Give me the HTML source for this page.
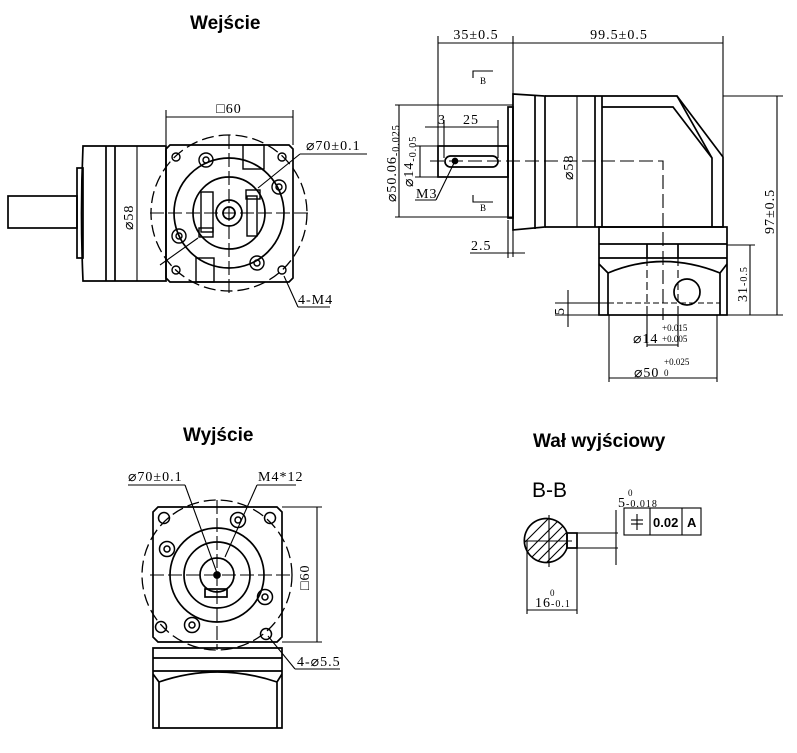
<!DOCTYPE html>
<html><head><meta charset="utf-8"><style>
html,body{margin:0;padding:0;background:#fff;width:797px;height:753px;overflow:hidden}
svg{display:block}
.t{font-family:"Liberation Sans",sans-serif;font-weight:bold;font-size:19px;fill:#000}
.d{font-family:"Liberation Serif",serif;font-size:14px;letter-spacing:1px;fill:#000}
.s{font-family:"Liberation Serif",serif;font-size:9px;fill:#000}
</style></head><body>
<svg width="797" height="753" viewBox="0 0 797 753" fill="none" stroke="#000" stroke-width="1.7">
<g stroke="none">
<text class="t" x="190" y="29">Wejście</text>
<text class="t" x="183" y="441">Wyjście</text>
<text class="t" x="533" y="447">Wał wyjściowy</text>
<text x="532" y="497" style="font-family:'Liberation Sans',sans-serif;font-size:21px" fill="#000">B-B</text>
</g>

<!-- ===== Wejście view ===== -->
<rect x="8" y="196" width="69" height="32"/>
<rect x="77" y="168" width="6" height="90"/>
<path d="M83,146 L166,146 L166,281 L83,281 Q80,213 83,146 Z"/>
<line x1="106" y1="146" x2="106" y2="281"/>
<line x1="115" y1="146" x2="115" y2="281"/>
<line x1="137" y1="146" x2="137" y2="281" stroke-width="1.1"/>
<text class="d" transform="translate(133,230) rotate(-90)" stroke="none">⌀58</text>
<path d="M170,145 L289,145 L293,149 L293,278 L289,282 L170,282 L166,278 L166,149 Z"/>
<circle cx="229" cy="213" r="78" stroke-dasharray="12,5" stroke-width="1.3"/>
<circle cx="229" cy="213" r="55"/>
<circle cx="229" cy="213" r="36"/>
<circle cx="229" cy="213" r="13"/>
<circle cx="229" cy="213" r="6"/>
<line x1="150" y1="213" x2="310" y2="213" stroke-dasharray="14,4" stroke-width="1.1"/>
<line x1="229" y1="135" x2="229" y2="295" stroke-dasharray="14,4" stroke-width="1.1"/>
<g stroke-width="1.4">
<circle cx="176" cy="157" r="4"/><circle cx="282" cy="157" r="4"/><circle cx="176" cy="270" r="4"/><circle cx="282" cy="270" r="4"/>
<circle cx="206" cy="160" r="7"/><circle cx="206" cy="160" r="3"/>
<circle cx="279" cy="187" r="7"/><circle cx="279" cy="187" r="3"/>
<circle cx="179" cy="236" r="7"/><circle cx="179" cy="236" r="3"/>
<circle cx="257" cy="263" r="7"/><circle cx="257" cy="263" r="3"/>
<rect x="243" y="145" width="21" height="24"/>
<rect x="196" y="258" width="18" height="24"/>
<rect x="201" y="192" width="12" height="40"/>
<rect x="247" y="196" width="10" height="40"/>
<rect x="246" y="190" width="14" height="9"/>
<rect x="199" y="228" width="14" height="9"/>
</g>
<g stroke-width="1.1">
<line x1="166" y1="117" x2="293" y2="117"/><line x1="166" y1="110" x2="166" y2="145"/><line x1="293" y1="110" x2="293" y2="145"/>
<line x1="300" y1="154" x2="367" y2="154"/><line x1="300" y1="154" x2="258" y2="188"/>
<line x1="160" y1="265" x2="198" y2="238"/>
<line x1="330" y1="307" x2="298" y2="307"/><line x1="298" y1="307" x2="284" y2="276"/>
</g>
<g stroke="none">
<text class="d" x="229" y="113" text-anchor="middle">□60</text>
<text class="d" x="306" y="150">⌀70±0.1</text>
<text class="d" x="298" y="304">4-M4</text>
</g>

<!-- ===== side view ===== -->
<g stroke-width="1.1">
<line x1="438" y1="43" x2="513" y2="43"/><line x1="513" y1="43" x2="723" y2="43"/>
<line x1="438" y1="36" x2="438" y2="177"/><line x1="513" y1="36" x2="513" y2="257"/><line x1="723" y1="36" x2="723" y2="157"/>
<path d="M473,78 L473,71 L493,71 M473,195 L473,202 L493,202"/>
<line x1="399" y1="105" x2="399" y2="217"/><line x1="395" y1="105" x2="513" y2="105"/><line x1="395" y1="217" x2="513" y2="217"/>
<line x1="420" y1="146" x2="420" y2="177"/><line x1="415" y1="146" x2="438" y2="146"/><line x1="415" y1="177" x2="438" y2="177"/>
<line x1="425" y1="127" x2="498" y2="127"/><line x1="444" y1="120" x2="444" y2="158"/><line x1="498" y1="120" x2="498" y2="158"/>
<line x1="415" y1="200" x2="436" y2="200"/><line x1="436" y1="200" x2="455" y2="161"/>
<line x1="470" y1="253" x2="525" y2="253"/><line x1="508" y1="220" x2="508" y2="258"/>
<line x1="577" y1="96" x2="577" y2="227"/>
<line x1="723" y1="96" x2="783" y2="96"/><line x1="727" y1="315" x2="783" y2="315"/><line x1="777" y1="96" x2="777" y2="315"/>
<line x1="727" y1="245" x2="755" y2="245"/><line x1="750" y1="245" x2="750" y2="315"/>
<line x1="555" y1="303" x2="608" y2="303"/><line x1="555" y1="315" x2="608" y2="315"/><line x1="568" y1="290" x2="568" y2="327"/>
<line x1="609" y1="315" x2="609" y2="382"/><line x1="717" y1="315" x2="717" y2="382"/><line x1="609" y1="378" x2="717" y2="378"/>
<line x1="647" y1="315" x2="647" y2="347"/><line x1="678" y1="315" x2="678" y2="347"/><line x1="647" y1="345" x2="678" y2="345"/>
</g>
<g stroke="none">
<text class="d" x="476" y="39" text-anchor="middle">35±0.5</text>
<text class="d" x="619" y="39" text-anchor="middle">99.5±0.5</text>
<text class="s" x="480" y="84">B</text><text class="s" x="480" y="211">B</text>
<text class="d" x="438" y="124">3</text><text class="d" x="463" y="124">25</text>
<text class="d" x="416" y="198">M3</text>
<text class="d" x="471" y="250">2.5</text>
<text class="d" transform="translate(396,202) rotate(-90)">⌀50.06<tspan font-size="10" dy="3">-0.025</tspan></text>
<text class="d" transform="translate(413,187) rotate(-90)">⌀14<tspan font-size="10" dy="3">-0.05</tspan></text>
<text class="d" transform="translate(573,180) rotate(-90)">⌀58</text>
<text class="d" transform="translate(564,315) rotate(-90)">5</text>
<text class="d" transform="translate(747,302) rotate(-90)">31<tspan font-size="10">-0.5</tspan></text>
<text class="d" transform="translate(774,234) rotate(-90)">97±0.5</text>
<text class="d" x="633" y="343">⌀14</text><text class="s" x="662" y="331">+0.015</text><text class="s" x="662" y="342">+0.005</text>
<text class="d" x="634" y="377">⌀50</text><text class="s" x="664" y="365">+0.025</text><text class="s" x="664" y="376">0</text>
</g>
<rect x="438" y="146" width="70" height="31"/>
<rect x="445" y="156" width="53" height="11" rx="5.5"/>
<circle cx="455" cy="161" r="2.5" fill="#000"/>
<rect x="508" y="107" width="5" height="111"/>
<path d="M513,94 L545,96 L545,227 L513,230 Z"/>
<line x1="535" y1="95" x2="535" y2="229"/>
<path d="M545,96 L677,96 L723,157 L723,227 L545,227"/>
<line x1="595" y1="96" x2="595" y2="227"/><line x1="602" y1="96" x2="602" y2="227"/>
<path d="M602,107 L673,107 L712,158 L712,227"/>
<line x1="677" y1="96" x2="712" y2="158"/>
<path d="M430,161 L663,161 L663,320" stroke-dasharray="14,5" stroke-width="1.1"/>
<rect x="599" y="227" width="128" height="88"/>
<line x1="599" y1="244" x2="727" y2="244"/><line x1="599" y1="258" x2="727" y2="258"/>
<line x1="647" y1="244" x2="647" y2="258"/><line x1="678" y1="244" x2="678" y2="258"/>
<path d="M599,264 L608,273 L608,315 M727,264 L720,273 L720,315 M608,273 Q663,250 720,273"/>
<circle cx="687" cy="292" r="13"/>
<line x1="608" y1="303" x2="720" y2="303" stroke-dasharray="6,3" stroke-width="1.1"/>
<line x1="647" y1="258" x2="647" y2="315" stroke-dasharray="8,4" stroke-width="1.1"/>
<line x1="678" y1="258" x2="678" y2="315" stroke-dasharray="8,4" stroke-width="1.1"/>

<!-- ===== Wyjście view ===== -->
<path d="M158,507 L277,507 L282,512 L282,637 L277,642 L158,642 L153,637 L153,512 Z"/>
<circle cx="217" cy="575" r="75" stroke-dasharray="12,5" stroke-width="1.3"/>
<circle cx="217" cy="575" r="47"/>
<circle cx="217" cy="575" r="33"/>
<circle cx="217" cy="575" r="17"/>
<circle cx="217" cy="575" r="3" fill="#000"/>
<rect x="205" y="589" width="22" height="8"/>
<line x1="150" y1="575" x2="292" y2="575" stroke-dasharray="14,4" stroke-width="1.1"/>
<line x1="217" y1="500" x2="217" y2="650" stroke-dasharray="14,4" stroke-width="1.1"/>
<g stroke-width="1.5">
<circle cx="238" cy="520" r="7.5"/><circle cx="238" cy="520" r="3"/>
<circle cx="167" cy="549" r="7.5"/><circle cx="167" cy="549" r="3"/>
<circle cx="265" cy="597" r="7.5"/><circle cx="265" cy="597" r="3"/>
<circle cx="192" cy="625" r="7.5"/><circle cx="192" cy="625" r="3"/>
<circle cx="164" cy="518" r="5.5"/><circle cx="270" cy="518" r="5.5"/><circle cx="161" cy="627" r="5.5"/><circle cx="266" cy="634" r="5.5"/>
</g>
<path d="M153,648 L282,648 L282,728 L153,728 Z M153,658 L282,658 M153,671 L282,671 M159,682 L159,728 M277,682 L277,728 M153,674 L159,682 Q217,662 277,682 L282,674"/>
<g stroke-width="1.1">
<line x1="128" y1="485" x2="185" y2="485"/><line x1="185" y1="485" x2="217" y2="573"/>
<line x1="257" y1="485" x2="296" y2="485"/><line x1="257" y1="485" x2="225" y2="557"/>
<line x1="282" y1="507" x2="322" y2="507"/><line x1="282" y1="642" x2="322" y2="642"/><line x1="317" y1="507" x2="317" y2="642"/>
<line x1="295" y1="669" x2="340" y2="669"/><line x1="295" y1="669" x2="268" y2="636"/>
</g>
<g stroke="none">
<text class="d" x="128" y="481">⌀70±0.1</text>
<text class="d" x="258" y="481">M4*12</text>
<text class="d" transform="translate(309,590) rotate(-90)">□60</text>
<text class="d" x="297" y="666">4-⌀5.5</text>
</g>

<!-- ===== B-B ===== -->
<defs><clipPath id="c"><path d="M567,533 A22,22 0 1 0 567,548 Z"/></clipPath></defs>
<g clip-path="url(#c)" stroke-width="1.1">
<path d="M515,540 L550,505 M515,552 L560,507 M517,562 L570,509 M522,567 L580,509 M532,567 L580,519 M542,567 L580,529 M552,567 L580,539 M515,530 L540,505"/>
</g>
<path d="M567,533 A22,22 0 1 0 567,548 Z"/>
<rect x="567" y="533" width="10" height="15"/>
<line x1="524" y1="541" x2="572" y2="541" stroke-width="1.1"/><line x1="549" y1="515" x2="549" y2="567" stroke-width="1.1"/>
<g stroke-width="1.1">
<line x1="577" y1="533" x2="618" y2="533"/><line x1="577" y1="548" x2="618" y2="548"/><line x1="616" y1="510" x2="616" y2="565"/>
<line x1="527" y1="541" x2="527" y2="614"/><line x1="577" y1="548" x2="577" y2="614"/><line x1="527" y1="610" x2="577" y2="610"/>
<rect x="624" y="508" width="77" height="27"/><line x1="650" y1="508" x2="650" y2="535"/><line x1="682" y1="508" x2="682" y2="535"/>
<line x1="631" y1="520" x2="643" y2="520"/><line x1="631" y1="524" x2="643" y2="524"/><line x1="637" y1="514" x2="637" y2="530"/>
</g>
<g stroke="none">
<text class="d" x="618" y="507">5<tspan font-size="10">-0.018</tspan></text>
<text class="s" x="628" y="496">0</text>
<text class="d" x="535" y="607">16<tspan font-size="10">-0.1</tspan></text>
<text class="s" x="550" y="596">0</text>
<text x="653" y="527" style="font-family:'Liberation Sans',sans-serif;font-weight:bold;font-size:13px" fill="#000">0.02</text>
<text x="687" y="527" style="font-family:'Liberation Sans',sans-serif;font-weight:bold;font-size:13px" fill="#000">A</text>
</g>
</svg>
</body></html>
